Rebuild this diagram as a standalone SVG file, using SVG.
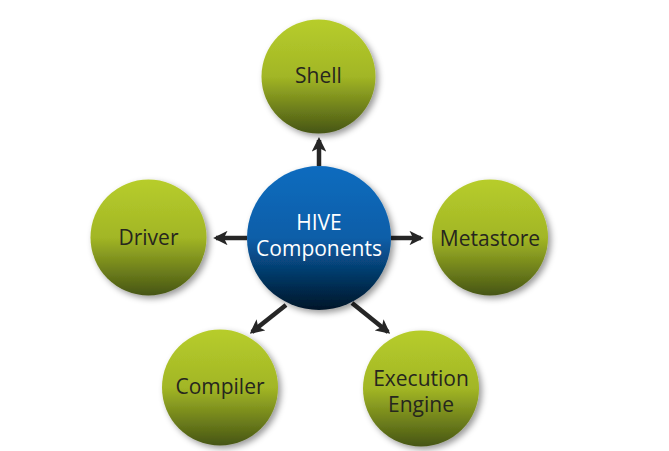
<svg xmlns="http://www.w3.org/2000/svg" width="669" height="451" viewBox="0 0 669 451">
<defs>
<linearGradient id="g" x1="0" y1="0" x2="0" y2="1">
<stop offset="0" stop-color="#b7cd2c"/>
<stop offset="0.5" stop-color="#a2b625"/>
<stop offset="1" stop-color="#465514"/>
</linearGradient>
<linearGradient id="b" x1="0" y1="0" x2="0" y2="1">
<stop offset="0" stop-color="#0c6cbf"/>
<stop offset="0.5" stop-color="#0a5ea8"/>
<stop offset="1" stop-color="#001528"/>
</linearGradient>
<filter id="sh" x="-20%" y="-20%" width="150%" height="150%">
<feDropShadow dx="3" dy="3" stdDeviation="3" flood-color="#000" flood-opacity="0.4"/>
</filter>
<marker id="ah" viewBox="0 0 10 10" refX="8" refY="5" markerWidth="3.2" markerHeight="3.2" orient="auto" markerUnits="strokeWidth">
<path d="M0,0 L10,5 L0,10 L2.5,5 Z" fill="#262626"/>
</marker>
<style>
.n{fill:url(#g);filter:url(#sh)}
.c{fill:url(#b);filter:url(#sh)}
.t{font-family:"Open Sans","DejaVu Sans",sans-serif;font-size:21px;fill:#26261e;text-anchor:middle}
.w{font-family:"Open Sans","DejaVu Sans",sans-serif;font-size:21px;fill:#ffffff;text-anchor:middle}
.a{stroke:#262626;stroke-width:4.5;fill:none;marker-end:url(#ah)}
</style>
</defs>
<rect width="669" height="451" fill="#ffffff"/>
<g id="connectors">
<line class="a" x1="319" y1="166" x2="319" y2="140"/>
<line class="a" x1="247" y1="238" x2="216" y2="238"/>
<line class="a" x1="391" y1="238" x2="421" y2="238"/>
<line class="a" x1="286" y1="305" x2="252" y2="332"/>
<line class="a" x1="352" y1="303" x2="388" y2="332"/>
</g>
<g id="hive">
<circle class="c" cx="319" cy="238" r="72"/>
<text class="w" x="319" y="230">HIVE</text>
<text class="w" x="319" y="256">Components</text>
</g>
<g id="shell">
<circle class="n" cx="318.5" cy="76.5" r="57"/>
<text class="t" x="318.5" y="83">Shell</text>
</g>
<g id="driver">
<circle class="n" cx="148.5" cy="237.5" r="58"/>
<text class="t" x="148.5" y="245">Driver</text>
</g>
<g id="metastore">
<circle class="n" cx="490" cy="237.5" r="58"/>
<text class="t" x="490" y="246">Metastore</text>
</g>
<g id="compiler">
<circle class="n" cx="220" cy="387.5" r="58"/>
<text class="t" x="220" y="394">Compiler</text>
</g>
<g id="execution">
<circle class="n" cx="421" cy="388.5" r="58"/>
<text class="t" x="421" y="386">Execution</text>
<text class="t" x="421" y="412">Engine</text>
</g>
</svg>
